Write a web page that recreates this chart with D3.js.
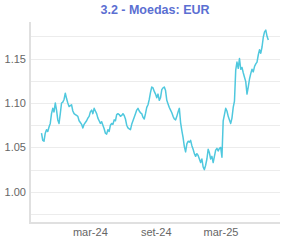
<!DOCTYPE html>
<html><head><meta charset="utf-8">
<script src="https://cdn.jsdelivr.net/npm/d3@7"></script>
<style>html,body{margin:0;padding:0;background:#fff;}svg{display:block;}</style>
</head><body>
<svg id="c" width="285" height="243"></svg>
<script>
const title = "3.2 - Moedas: EUR";
const startDate = "2023-10-18";
const stepDays = 3.5;
const values = [
1.066,1.058,1.057,1.066,1.070,1.068,1.073,1.077,1.088,1.094,
1.090,1.100,1.092,1.081,1.077,1.088,1.100,1.101,1.104,1.111,
1.105,1.100,1.096,1.097,1.098,1.091,1.088,1.087,1.086,1.085,
1.080,1.078,1.076,1.072,1.076,1.078,1.080,1.083,1.085,1.090,
1.092,1.088,1.094,1.091,1.088,1.083,1.080,1.077,1.079,1.075,
1.071,1.066,1.065,1.070,1.068,1.075,1.077,1.076,1.081,1.080,
1.087,1.088,1.087,1.085,1.086,1.088,1.086,1.082,1.075,1.072,
1.071,1.070,1.076,1.080,1.084,1.088,1.092,1.094,1.091,1.089,
1.088,1.084,1.082,1.088,1.095,1.098,1.104,1.112,1.118,1.117,
1.113,1.110,1.106,1.110,1.103,1.106,1.115,1.117,1.118,1.114,
1.103,1.099,1.095,1.092,1.089,1.085,1.082,1.081,1.085,1.090,
1.094,1.078,1.069,1.061,1.051,1.045,1.054,1.057,1.056,1.058,
1.052,1.048,1.043,1.040,1.043,1.041,1.037,1.033,1.037,1.028,
1.025,1.030,1.037,1.048,1.044,1.037,1.040,1.033,1.040,1.047,
1.049,1.046,1.049,1.050,1.039,1.080,1.087,1.094,1.091,1.085,
1.081,1.077,1.083,1.095,1.102,1.137,1.146,1.139,1.150,1.138,
1.140,1.134,1.129,1.124,1.110,1.118,1.127,1.133,1.138,1.135,
1.141,1.144,1.146,1.154,1.160,1.156,1.163,1.174,1.180,1.182,
1.175,1.171
];
const yTickValues = [1.00, 1.05, 1.10, 1.15];
const yGridValues = [0.975, 1.00, 1.025, 1.05, 1.075, 1.10, 1.125, 1.15, 1.175];
const xTickDates = ["2024-03-01", "2024-09-01", "2025-03-01"];
const xTickLabels = ["mar-24", "set-24", "mar-25"];

const parse = d3.timeParse("%Y-%m-%d");
const t0 = parse(startDate);
const data = values.map((v, i) => ({date: d3.timeHour.offset(t0, Math.round(i * stepDays * 24)), value: v}));

const svg = d3.select("#c");
const L = 30, R = 280, T = 23, B = 223;

const x = d3.scaleTime()
  .domain([data[0].date, data[data.length - 1].date])
  .range([41.5, 268.3]);
const y = d3.scaleLinear().domain([0.965, 1.19]).range([B, T]);

// grid
svg.append("g").selectAll("line").data(yGridValues).join("line")
  .attr("x1", L).attr("x2", R)
  .attr("y1", d => Math.round(y(d)) + 0.5).attr("y2", d => Math.round(y(d)) + 0.5)
  .attr("stroke", "#ececec").attr("stroke-width", 1);

// y axis
const yAxis = d3.axisLeft(y).tickValues(yTickValues).tickFormat(d3.format(".2f")).tickSize(0).tickPadding(4);
const gy = svg.append("g").attr("transform", `translate(${L},0)`).call(yAxis);
gy.select(".domain").remove();
gy.selectAll("text").attr("fill", "#666").attr("font-size", "11px").attr("font-family", "Liberation Sans, Arial, sans-serif");

// x axis
const xAxis = d3.axisBottom(x).tickValues(xTickDates.map(parse))
  .tickFormat((d, i) => xTickLabels[i]).tickSize(0).tickPadding(5);
const gx = svg.append("g").attr("transform", `translate(0,${B})`).call(xAxis);
gx.select(".domain").remove();
gx.selectAll("text").attr("fill", "#666").attr("font-size", "11px").attr("font-family", "Liberation Sans, Arial, sans-serif");

// axis lines
svg.append("line").attr("x1", L).attr("x2", L).attr("y1", T - 1).attr("y2", B + 1)
  .attr("stroke", "#e0e0e0").attr("stroke-width", 2);
svg.append("line").attr("x1", L).attr("x2", R).attr("y1", B).attr("y2", B)
  .attr("stroke", "#e0e0e0").attr("stroke-width", 2);

// line
const line = d3.line().x(d => x(d.date)).y(d => y(d.value));
svg.append("path").datum(data).attr("d", line)
  .attr("fill", "none").attr("stroke", "#4fc8de").attr("stroke-width", 1.5)
  .attr("stroke-linejoin", "round");

// title
svg.append("text").attr("x", (L + R) / 2).attr("y", 14)
  .attr("text-anchor", "middle").attr("font-weight", "bold")
  .attr("font-size", "12.5px").attr("font-family", "Liberation Sans, Arial, sans-serif")
  .attr("fill", "#5b6fd2").text(title);
</script>
</body></html>
